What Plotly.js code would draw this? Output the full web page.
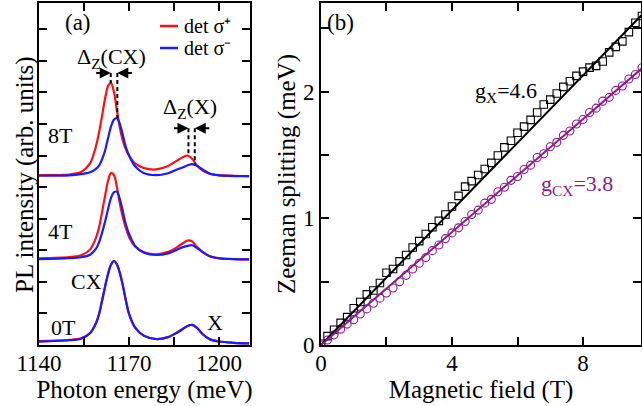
<!DOCTYPE html>
<html>
<head>
<meta charset="utf-8">
<script src="https://cdn.plot.ly/plotly-3.0.1.min.js"></script>
<style>html,body{margin:0;padding:0;background:#fff}#chart{width:642px;height:406px}</style>
</head>
<body>
<div id="chart"></div>
<script>
// ---------- panel (a): PL spectra (offset per field) ----------
const energy = [1140,1150,1154,1157,1159,1160,1161,1162,1163,1164,1165,1166,1167,1168,1169,1170,1172,1175,1179,1183,1186,1188,1189.5,1191,1192.5,1194.5,1197,1200,1205,1210];
const pl0T_plus  = [0.12,0.16,0.21,0.38,0.70,0.98,1.40,1.85,2.25,2.54,2.66,2.54,2.25,1.85,1.38,0.98,0.55,0.29,0.19,0.25,0.40,0.52,0.60,0.64,0.55,0.34,0.17,0.11,0.07,0.05];
const pl0T_minus = [0.11,0.15,0.20,0.37,0.69,0.97,1.39,1.84,2.25,2.55,2.66,2.55,2.26,1.86,1.39,0.99,0.56,0.29,0.19,0.25,0.39,0.51,0.60,0.64,0.56,0.35,0.18,0.11,0.07,0.05];
const pl4T_plus  = [2.74,2.78,2.84,3.02,3.40,3.72,4.20,4.72,5.20,5.45,5.38,4.98,4.45,4.02,3.68,3.42,3.12,2.94,2.87,2.95,3.10,3.23,3.31,3.28,3.12,2.94,2.81,2.75,2.72,2.71];
const pl4T_minus = [2.72,2.75,2.78,2.86,3.05,3.25,3.55,3.90,4.30,4.66,4.84,4.85,4.60,4.20,3.80,3.52,3.14,2.92,2.85,2.90,3.02,3.10,3.14,3.16,3.08,2.95,2.80,2.74,2.72,2.71];
const pl8T_plus  = [5.38,5.40,5.48,5.75,6.30,6.73,7.25,7.80,8.20,8.30,8.00,7.40,6.85,6.45,6.18,6.00,5.75,5.60,5.56,5.67,5.84,5.95,6.00,5.90,5.70,5.52,5.42,5.38,5.36,5.35];
const pl8T_minus = [5.36,5.37,5.41,5.47,5.58,5.68,5.88,6.15,6.55,6.92,7.14,7.18,6.98,6.62,6.25,6.00,5.66,5.44,5.38,5.44,5.56,5.63,5.69,5.73,5.68,5.56,5.42,5.37,5.35,5.35];
const legendNames = ['det σ⁺', 'det σ⁻'];

// Zeeman-splitting markers at 8T (peak energies, peak heights, bracket level)
const dzCX_energy = [1163.9, 1166.1];
const dzCX_peak   = [8.30, 7.18];
const dzCX_level  = 8.61;
const dzX_energy  = [1189.8, 1191.9];
const dzX_peak    = [6.00, 5.72];
const dzX_level   = 6.86;

// ---------- panel (b): Zeeman splitting vs field ----------
const fieldB = [0,0.2,0.4,0.6,0.8,1.0,1.2,1.4,1.6,1.8,2.0,2.2,2.4,2.6,2.8,3.0,3.2,3.4,3.6,3.8,4.0,4.2,4.4,4.6,4.8,5.0,5.2,5.4,5.6,5.8,6.0,6.2,6.4,6.6,6.8,7.0,7.2,7.4,7.6,7.8,8.0,8.2,8.4,8.6,8.8,9.0,9.2,9.4,9.6,9.8];
const splitX  = [0.01,0.07,0.12,0.175,0.22,0.29,0.34,0.40,0.43,0.49,0.57,0.60,0.66,0.71,0.77,0.82,0.876,0.93,0.98,1.03,1.094,1.177,1.25,1.294,1.342,1.39,1.438,1.496,1.56,1.613,1.676,1.724,1.777,1.836,1.899,1.937,1.985,2.038,2.082,2.125,2.158,2.19,2.204,2.238,2.31,2.354,2.397,2.47,2.544,2.597];
const splitCX = [0.0,0.04,0.08,0.125,0.165,0.20,0.245,0.285,0.33,0.37,0.41,0.45,0.50,0.55,0.60,0.645,0.69,0.745,0.79,0.84,0.885,0.925,0.975,1.03,1.065,1.12,1.15,1.21,1.245,1.30,1.33,1.385,1.42,1.48,1.51,1.565,1.60,1.655,1.69,1.745,1.78,1.835,1.87,1.925,1.955,2.01,2.045,2.10,2.135,2.19];
const fitB     = [0, 9.8];
const fitX     = [0, 2.607];
const fitCX    = [0, 2.185];

const RED = '#ff1010', BLUE = '#1a1aff', PURPLE = '#8c1a8c';
const FONT = "'Liberation Serif', 'Times New Roman', Times, serif";

function spec(y, color, name) {
  return {x: energy, y: y, type: 'scatter', mode: 'lines', line: {color: color, width: 2.2, shape: 'spline', smoothing: 0.8},
          name: name, showlegend: false, xaxis: 'x', yaxis: 'y', hoverinfo: 'skip'};
}
const traces = [
  spec(pl8T_plus, RED, legendNames[0]),
  spec(pl8T_minus, BLUE, legendNames[1]),
  spec(pl4T_plus, RED, '4T ' + legendNames[0]),
  spec(pl4T_minus, BLUE, '4T ' + legendNames[1]),
  spec(pl0T_plus, RED, '0T ' + legendNames[0]),
  spec(pl0T_minus, BLUE, '0T ' + legendNames[1])
];
for (let i = 0; i < 2; i++) {
  traces.push({x: [dzCX_energy[i], dzCX_energy[i]], y: [dzCX_level, dzCX_peak[i]], type: 'scatter', mode: 'lines',
    line: {color: 'black', width: 2, dash: '4px,3px'}, showlegend: false, xaxis: 'x', yaxis: 'y'});
  traces.push({x: [dzX_energy[i], dzX_energy[i]], y: [dzX_level, dzX_peak[i]], type: 'scatter', mode: 'lines',
    line: {color: 'black', width: 2, dash: '4px,3px'}, showlegend: false, xaxis: 'x', yaxis: 'y'});
}
traces.push({x: fieldB, y: splitX, type: 'scatter', mode: 'markers', marker: {symbol: 'square-open', size: 7.5, color: 'black', line: {width: 1.1}},
  showlegend: false, xaxis: 'x2', yaxis: 'y2'});
traces.push({x: fieldB, y: splitCX, type: 'scatter', mode: 'markers', marker: {symbol: 'circle-open', size: 8, color: PURPLE, line: {width: 1.1}},
  showlegend: false, xaxis: 'x2', yaxis: 'y2'});
traces.push({x: fitB, y: fitX, type: 'scatter', mode: 'lines', line: {color: 'black', width: 2}, showlegend: false, xaxis: 'x2', yaxis: 'y2'});
traces.push({x: fitB, y: fitCX, type: 'scatter', mode: 'lines', line: {color: PURPLE, width: 2}, showlegend: false, xaxis: 'x2', yaxis: 'y2'});

const axCommon = {showline: true, linecolor: 'black', linewidth: 2, mirror: 'ticks', ticks: 'inside', ticklen: 8, tickwidth: 2,
  tickcolor: 'black', showgrid: false, zeroline: false, tickfont: {family: FONT, size: 23, color: 'black'}};
const titleFont = {family: FONT, size: 25, color: 'black'};

const annFont = {family: FONT, size: 22, color: 'black'};
function txt(x, y, text, xref, yref, extra) {
  return Object.assign({x: x, y: y, xref: xref, yref: yref, text: text, showarrow: false, font: annFont}, extra || {});
}
function arrow(x, y, ax) {
  return {x: x, y: y, xref: 'x', yref: 'y', text: '', showarrow: true, arrowhead: 2, arrowsize: 1.1, arrowwidth: 2,
    arrowcolor: 'black', ax: ax, ay: 0, standoff: 0};
}

// manual legend (compact rows like the reference)
const legendRows = [0.9327, 0.8684];
const legendColors = [RED, BLUE];
const shapes = legendRows.map((yy, i) => ({type: 'line', xref: 'paper', yref: 'paper', x0: 0.201, x1: 0.2309, y0: yy, y1: yy,
  line: {color: legendColors[i], width: 2.5}}));
const legendFont = {family: FONT, size: 20, color: 'black'};

const layout = {
  width: 642, height: 406,
  margin: {l: 39, r: 1, t: 3, b: 61},
  paper_bgcolor: 'white', plot_bgcolor: 'white',
  font: {family: FONT, color: 'black'},
  showlegend: false,
  xaxis: Object.assign({}, axCommon, {domain: [0, 0.3505], range: [1140, 1210.3], dtick: 30, tick0: 1140, ticklabelstandoff: -4,
    minor: {dtick: 15, ticks: 'inside', ticklen: 8, tickwidth: 2, tickcolor: 'black'},
    title: {text: 'Photon energy (meV)', font: titleFont, standoff: 0}}),
  yaxis: Object.assign({}, axCommon, {domain: [0, 1], range: [0, 10.83], dtick: 1, showticklabels: false}),
  xaxis2: Object.assign({}, axCommon, {domain: [0.4684, 1], range: [0, 9.77], dtick: 4, anchor: 'y2', ticklabelstandoff: -4,
    minor: {dtick: 2, ticks: 'inside', ticklen: 8, tickwidth: 2, tickcolor: 'black'},
    title: {text: 'Magnetic field (T)', font: titleFont, standoff: 0}}),
  yaxis2: Object.assign({}, axCommon, {domain: [0, 1], range: [0, 2.7], dtick: 1, anchor: 'x2',
    minor: {dtick: 0.5, ticks: 'inside', ticklen: 8, tickwidth: 2, tickcolor: 'black'},
    title: {text: 'Zeeman splitting (meV)', font: titleFont, standoff: 0}}),
  shapes: shapes,
  annotations: [
    txt(-0.0233, 0.5, 'PL intensity (arb. units)', 'paper', 'paper', {textangle: -90, xanchor: 'center', yanchor: 'middle', font: titleFont}),
    txt(0.2375, legendRows[0], legendNames[0], 'paper', 'paper', {xanchor: 'left', yanchor: 'middle', font: legendFont}),
    txt(0.2375, legendRows[1], legendNames[1], 'paper', 'paper', {xanchor: 'left', yanchor: 'middle', font: legendFont}),
    txt(0.04, 0.985, '(a)', 'paper', 'paper', {xanchor: 'left', yanchor: 'top', font: {family: FONT, size: 23, color: 'black'}}),
    txt(0.475, 0.985, '(b)', 'paper', 'paper', {xanchor: 'left', yanchor: 'top', font: {family: FONT, size: 23, color: 'black'}}),
    txt(1164.3, 9.1, 'Δ<sub>Z</sub>(CX)', 'x', 'y'),
    txt(1190.3, 7.5, 'Δ<sub>Z</sub>(X)', 'x', 'y'),
    arrow(dzCX_energy[0], dzCX_level, -16), arrow(dzCX_energy[1], dzCX_level, 16),
    arrow(dzX_energy[0], dzX_level, -16), arrow(dzX_energy[1], dzX_level, 16),
    txt(1147.3, 6.62, '8T', 'x', 'y'),
    txt(1147.0, 3.58, '4T', 'x', 'y'),
    txt(1148.0, 0.55, '0T', 'x', 'y'),
    txt(1155.7, 2.02, 'CX', 'x', 'y'),
    txt(1198.7, 0.72, 'X', 'x', 'y'),
    txt(5.65, 2.0, 'g<sub>X</sub>=4.6', 'x2', 'y2'),
    txt(7.83, 1.265, 'g<sub>CX</sub>=3.8', 'x2', 'y2', {font: {family: FONT, size: 22, color: PURPLE}})
  ]
};

Plotly.newPlot('chart', traces, layout, {staticPlot: true, displayModeBar: false});
</script>
</body>
</html>
